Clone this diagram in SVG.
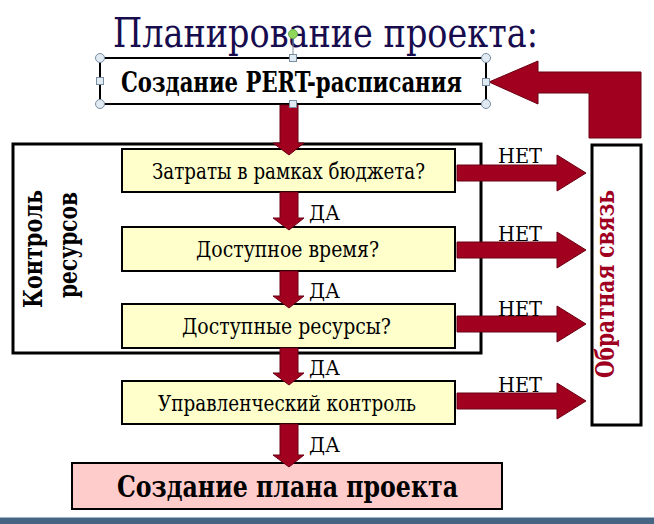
<svg xmlns="http://www.w3.org/2000/svg" width="654" height="524" viewBox="0 0 654 524">
<style>
text{font-family:"DejaVu Serif","Liberation Serif",serif}
.yel{fill:#ffffcc;stroke:#000;stroke-width:2}
.big{fill:#fff;stroke:#000;stroke-width:3}
.arr{fill:#a1001f;stroke:#6a0014;stroke-width:1}
.q{font-size:22.5px;fill:#000;text-anchor:middle}
.lbl{font-size:20px;fill:#000}
.hc{fill:#dfeaf3;stroke:#7a8ea0;stroke-width:1}
.hs{fill:#dfeaf3;stroke:#7a8ea0;stroke-width:1}
</style>

<rect x="0" y="0" width="654" height="524" fill="#fff"/>

<g id="title">
<text x="325.5" y="47" font-size="41" fill="#170c4e" text-anchor="middle" textLength="425" lengthAdjust="spacingAndGlyphs">Планирование проекта:</text>
</g>

<g id="node-resource-control">
<rect class="big" x="13" y="144" width="468" height="209"/>
<text transform="translate(42,249) rotate(-90)" font-size="26" font-weight="bold" text-anchor="middle" textLength="118" lengthAdjust="spacingAndGlyphs">Контроль</text>
<text transform="translate(77,245) rotate(-90)" font-size="26" font-weight="bold" text-anchor="middle" textLength="106" lengthAdjust="spacingAndGlyphs">ресурсов</text>
</g>

<g id="node-feedback">
<rect class="big" x="592" y="145" width="49" height="280"/>
<text transform="translate(614,284) rotate(-90)" font-size="26" font-weight="bold" fill="#a0001f" text-anchor="middle" textLength="188" lengthAdjust="spacingAndGlyphs">Обратная связь</text>
</g>

<g id="node-pert">
<rect x="100" y="58" width="386" height="46" fill="#fff" stroke="#000" stroke-width="2"/>
<text x="291.5" y="92" font-size="27" font-weight="bold" text-anchor="middle" textLength="341" lengthAdjust="spacingAndGlyphs">Создание PERT-расписания</text>
</g>

<g id="node-budget">
<rect class="yel" x="122" y="149" width="333" height="43"/>
<text class="q" x="288.5" y="179" textLength="273" lengthAdjust="spacingAndGlyphs">Затраты в рамках бюджета?</text>
</g>

<g id="node-time">
<rect class="yel" x="122" y="227" width="333" height="44"/>
<text class="q" x="287.5" y="257" textLength="183" lengthAdjust="spacingAndGlyphs">Доступное время?</text>
</g>

<g id="node-resources">
<rect class="yel" x="122" y="304" width="333" height="44"/>
<text class="q" x="286.5" y="334" textLength="209" lengthAdjust="spacingAndGlyphs">Доступные ресурсы?</text>
</g>

<g id="node-mgmt">
<rect class="yel" x="122" y="381" width="333" height="43"/>
<text class="q" x="287" y="411" font-size="21px" textLength="258" lengthAdjust="spacingAndGlyphs">Управленческий контроль</text>
</g>

<g id="node-plan">
<rect x="72" y="463" width="430" height="46" fill="#ffcccc" stroke="#000" stroke-width="2"/>
<text x="287.5" y="497" font-size="29" font-weight="bold" text-anchor="middle" textLength="341" lengthAdjust="spacingAndGlyphs">Создание плана проекта</text>
</g>

<g id="connectors">
<polygon class="arr" points="489,82 538,61 538,72 641,72 641,138 589,138 589,93 538,93 538,104"/>
<polygon class="arr" points="280,105 298,105 298,143 304,143 289,155 273,143 280,143"/>
<polygon class="arr" points="280,192 298,192 298,218 304,218 289,230 273,218 280,218"/>
<polygon class="arr" points="280,271 298,271 298,296 304,296 289,308 273,296 280,296"/>
<polygon class="arr" points="280,348 298,348 298,373 304,373 289,385 273,373 280,373"/>
<polygon class="arr" points="280,424 298,424 298,455 304,455 289,467 273,455 280,455"/>
<polygon class="arr" points="457,165 557,165 557,155 586,173 557,191 557,181 457,181"/>
<polygon class="arr" points="457,242 557,242 557,232 586,250 557,268 557,258 457,258"/>
<polygon class="arr" points="457,316 557,316 557,306 586,324 557,342 557,332 457,332"/>
<polygon class="arr" points="457,393 557,393 557,383 586,401 557,419 557,409 457,409"/>
<text class="lbl" x="309" y="220" textLength="31" lengthAdjust="spacingAndGlyphs">ДА</text>
<text class="lbl" x="309" y="298" textLength="31" lengthAdjust="spacingAndGlyphs">ДА</text>
<text class="lbl" x="309" y="375" textLength="31" lengthAdjust="spacingAndGlyphs">ДА</text>
<text class="lbl" x="309" y="452" textLength="31" lengthAdjust="spacingAndGlyphs">ДА</text>
<text class="lbl" x="498" y="163" textLength="44" lengthAdjust="spacingAndGlyphs">НЕТ</text>
<text class="lbl" x="498" y="241" textLength="44" lengthAdjust="spacingAndGlyphs">НЕТ</text>
<text class="lbl" x="498" y="316" textLength="44" lengthAdjust="spacingAndGlyphs">НЕТ</text>
<text class="lbl" x="498" y="392" textLength="44" lengthAdjust="spacingAndGlyphs">НЕТ</text>
</g>

<g id="selection">
<line x1="293" y1="34" x2="293" y2="58" stroke="#7a8ea0" stroke-width="1"/>
<circle cx="293" cy="34" r="4.5" fill="#8fd65a" stroke="#6aa84f" stroke-width="1"/>
<circle class="hc" cx="100" cy="58" r="4.5"/>
<circle class="hc" cx="486" cy="58" r="4.5"/>
<circle class="hc" cx="100" cy="104" r="4.5"/>
<circle class="hc" cx="486" cy="104" r="4.5"/>
<rect class="hs" x="289.5" y="54.5" width="7" height="7"/>
<rect class="hs" x="289.5" y="100.5" width="7" height="7"/>
<rect class="hs" x="96.5" y="77.5" width="7" height="7"/>
<rect class="hs" x="482.5" y="78.5" width="7" height="7"/>
</g>

<g id="footer">
<rect x="0" y="518" width="654" height="6" fill="#456583"/>
<line x1="0" y1="517.5" x2="654" y2="517.5" stroke="#9fb3c6" stroke-width="1"/>
</g>
</svg>
